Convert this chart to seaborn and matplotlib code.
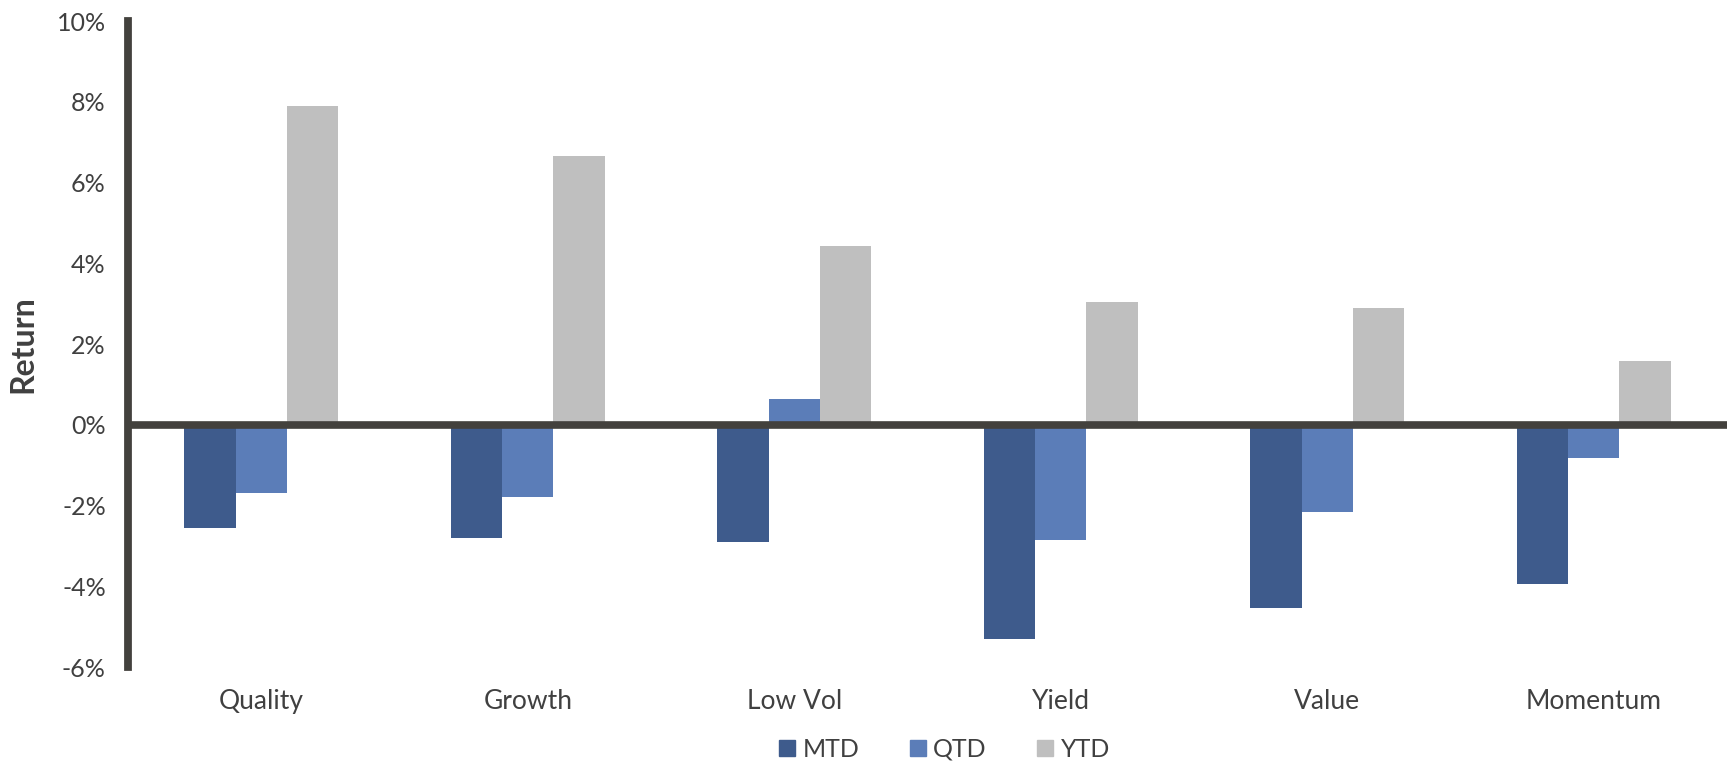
import pandas as pd
import numpy as np
import seaborn as sns
import matplotlib.pyplot as plt
from matplotlib.ticker import FuncFormatter

categories = ['Quality', 'Growth', 'Low Vol', 'Yield', 'Value', 'Momentum']
series = ['MTD', 'QTD', 'YTD']
mtd = [-2.55, -2.80, -2.90, -5.30, -4.55, -3.95]
qtd = [-1.69, -1.80, 0.65, -2.85, -2.15, -0.82]
ytd = [7.90, 6.65, 4.42, 3.05, 2.90, 1.58]
colors = ['#3E5B8C', '#5B7DB8', '#BFBFBF']
yticks = [-6, -4, -2, 0, 2, 4, 6, 8, 10]

df = pd.DataFrame({'category': categories, 'MTD': mtd, 'QTD': qtd, 'YTD': ytd})
df = df.melt(id_vars='category', var_name='period', value_name='ret')

sns.set_style('white')
plt.rcParams['font.family'] = ['Lato', 'DejaVu Sans']
text_color = '#404040'
line_color = '#43413D'

fig = plt.figure(figsize=(17.33, 7.61), dpi=100)
ax = fig.add_axes([0.0739, 0.1235, 0.9226, 0.8489])

sns.barplot(data=df, x='category', y='ret', hue='period', order=categories,
            hue_order=series, palette=colors, width=0.578, saturation=1,
            linewidth=0, ax=ax, legend=False)

ax.set_ylim(-6, 10)
ax.set_xlim(-0.5, len(categories) - 0.5)
ax.set_yticks(yticks)
ax.yaxis.set_major_formatter(FuncFormatter(lambda v, p: f'{v:.0f}%'))
ax.axhline(0, color=line_color, linewidth=5.5, zorder=5)

for s in ['top', 'right', 'bottom']:
    ax.spines[s].set_visible(False)
ax.spines['left'].set_color(line_color)
ax.spines['left'].set_linewidth(5.6)
ax.spines['left'].set_zorder(6)

ax.tick_params(axis='y', length=0, pad=16, labelsize=18, labelcolor=text_color)
ax.tick_params(axis='x', length=0, pad=16, labelsize=19, labelcolor=text_color)
ax.set_xlabel('')
ax.set_ylabel('Return', fontsize=23, fontweight='bold', color=text_color)
ax.yaxis.set_label_coords(-0.057, 0.5)

handles = [plt.Rectangle((0, 0), 1, 1, color=c) for c in colors]
fig.legend(handles, series, loc='center', bbox_to_anchor=(0.545, 0.0155),
           ncol=3, frameon=False, fontsize=18, labelcolor=text_color,
           handlelength=0.65, handleheight=0.65, handletextpad=0.3,
           columnspacing=2.0, borderpad=0)

fig.savefig('out.png', dpi=100)
